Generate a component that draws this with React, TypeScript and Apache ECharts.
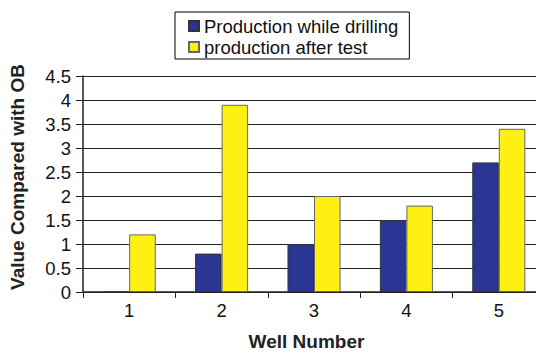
import React, { useEffect, useRef } from "react";
import * as echarts from "echarts";

const categories = ["1", "2", "3", "4", "5"];
const whileDrilling = [0, 0.8, 1.0, 1.5, 2.7];
const afterTest = [1.2, 3.9, 2.0, 1.8, 3.4];
const seriesNames = ["Production while drilling", "production after test"];

const FONT = 'Arial, "Liberation Sans", Helvetica, sans-serif';

export default function App() {
  const ref = useRef<HTMLDivElement>(null);
  useEffect(() => {
    document.body.style.margin = "0";
    const chart = echarts.init(ref.current!, null, { renderer: "svg" });
    chart.setOption({
      animation: false,
      backgroundColor: "#ffffff",
      textStyle: { fontFamily: FONT },
      legend: {
        orient: "vertical",
        left: 175,
        top: 12,
        padding: [4, 11, 2, 13],
        itemGap: 1,
        itemWidth: 10,
        itemHeight: 10,
        borderColor: "#000",
        borderWidth: 1,
        icon: "rect",
        textStyle: { fontSize: 18.5, color: "#111", fontFamily: FONT, lineHeight: 20 },
        data: seriesNames,
      },
      grid: { left: 81, right: 0, top: 76, bottom: 60, containLabel: false },
      xAxis: {
        type: "category",
        data: categories,
        name: "Well Number",
        nameLocation: "middle",
        nameGap: 40,
        nameTextStyle: { fontSize: 19, fontWeight: "bold", color: "#222", fontFamily: FONT, padding: [0, 15, 0, 0] },
        axisLine: { lineStyle: { color: "#222", width: 1.5 } },
        axisTick: { show: true, length: 6, lineStyle: { color: "#222" } },
        axisLabel: { fontSize: 18.5, color: "#111", margin: 9, fontFamily: FONT },
      },
      yAxis: {
        type: "value",
        min: 0,
        max: 4.5,
        interval: 0.5,
        name: "Value Compared with OB",
        nameLocation: "middle",
        nameGap: 56,
        nameTextStyle: { fontSize: 19, fontWeight: "bold", color: "#222", fontFamily: FONT, padding: [0, 0, 0, 14] },
        axisLine: { show: true, lineStyle: { color: "#222", width: 1.5 } },
        axisTick: { show: true, length: 7, lineStyle: { color: "#222" } },
        axisLabel: { fontSize: 18.5, color: "#111", margin: 12, fontFamily: FONT },
        splitLine: { show: true, lineStyle: { color: "#222", width: 1 } },
      },
      series: [
        {
          name: seriesNames[0],
          type: "bar",
          data: whileDrilling,
          barGap: "0%",
          barCategoryGap: "42.6%",
          itemStyle: { color: "#2B3593", borderColor: "#333", borderWidth: 1 },
        },
        {
          name: seriesNames[1],
          type: "bar",
          data: afterTest,
          barGap: "0%",
          barCategoryGap: "42.6%",
          itemStyle: { color: "#FFF014", borderColor: "#666", borderWidth: 1 },
        },
      ],
    });
    return () => chart.dispose();
  }, []);
  return (
    <div style={{ width: 536, height: 356, overflow: "hidden", position: "relative" }}>
      <div ref={ref} style={{ width: 545, height: 356 }} />
    </div>
  );
}
